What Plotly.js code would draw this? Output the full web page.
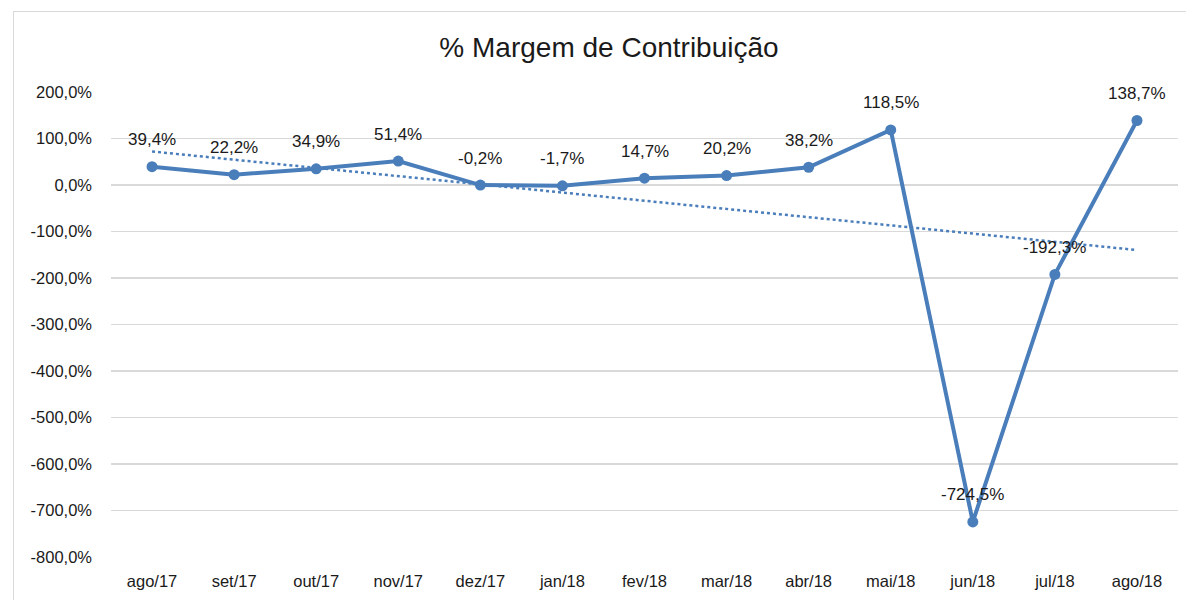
<!DOCTYPE html>
<html>
<head>
<meta charset="utf-8">
<script src="https://cdn.plot.ly/plotly-3.0.1.min.js"></script>
<style>
html,body{margin:0;padding:0;background:#fff;overflow:hidden;}
#frame{position:absolute;left:13px;top:11px;width:1200px;height:620px;border:1px solid #d9d9d9;box-sizing:border-box;}
#chart{position:absolute;left:0;top:0;width:1186px;height:600px;}
</style>
</head>
<body>
<div id="frame"></div>
<div id="chart"></div>
<script>
const categories = ["ago/17","set/17","out/17","nov/17","dez/17","jan/18","fev/18","mar/18","abr/18","mai/18","jun/18","jul/18","ago/18"];
const margem = [39.4, 22.2, 34.9, 51.4, -0.2, -1.7, 14.7, 20.2, 38.2, 118.5, -724.5, -192.3, 138.7];
const yTickVals = [200, 100, 0, -100, -200, -300, -400, -500, -600, -700, -800];
const yTickText = ["200,0%","100,0%","0,0%","-100,0%","-200,0%","-300,0%","-400,0%","-500,0%","-600,0%","-700,0%","-800,0%"];

const fmt = v => v.toFixed(1).replace('.', ',') + '%';

// Linear trendline (least squares) like Excel
const n = margem.length;
const idx = margem.map((_, i) => i);
const mx = idx.reduce((a,b)=>a+b,0)/n;
const my = margem.reduce((a,b)=>a+b,0)/n;
let sxy = 0, sxx = 0;
idx.forEach(i => { sxy += (i-mx)*(margem[i]-my); sxx += (i-mx)*(i-mx); });
const slope = sxy/sxx, intercept = my - slope*mx;
const trend = idx.map(i => intercept + slope*i);

const blue = '#4a7ebb';
const font = 'Liberation Sans, Arial, sans-serif';

const traces = [
  {x: categories, y: trend, mode: 'lines', line: {color: blue, width: 2.5, dash: 'dot'}, hoverinfo: 'skip'},
  {x: categories, y: margem, mode: 'lines+markers', line: {color: blue, width: 4}, marker: {color: blue, size: 11}}
];

const annotations = categories.map((c, i) => ({
  x: c, y: margem[i], xref: 'x', yref: 'y', text: fmt(margem[i]), showarrow: false,
  yshift: 27, font: {family: font, size: 17, color: '#1a1a1a'}
}));

const layout = {
  width: 1186, height: 600,
  margin: {l: 111, r: 8, t: 92, b: 43},
  paper_bgcolor: 'rgba(0,0,0,0)', plot_bgcolor: 'rgba(0,0,0,0)',
  showlegend: false,
  title: {text: '% Margem de Contribuição', xref: 'paper', x: (609-111)/(1178-111), xanchor: 'center', y: 1 - 47/600, yanchor: 'middle',
          font: {family: font, size: 28, color: '#1a1a1a'}},
  xaxis: {type: 'category', range: [-0.5, 12.5], showgrid: false, zeroline: false, showline: false,
          ticks: '', ticklabelstandoff: 12, tickfont: {family: font, size: 16.5, color: '#1a1a1a'}},
  yaxis: {range: [-800, 200], tickvals: yTickVals, ticktext: yTickText, showgrid: true, gridcolor: '#d9d9d9', gridwidth: 1.3,
          zeroline: false, showline: false, ticks: '', ticklabelstandoff: 18,
          tickfont: {family: font, size: 16.5, color: '#1a1a1a'}},
  annotations: annotations
};

Plotly.newPlot('chart', traces, layout, {displayModeBar: false, staticPlot: true});
</script>
</body>
</html>
